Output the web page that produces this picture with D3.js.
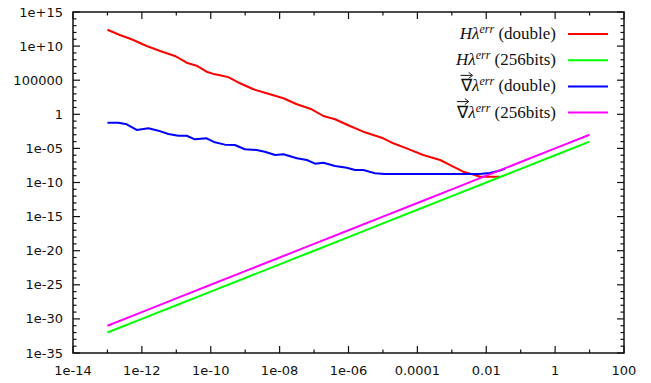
<!DOCTYPE html>
<html>
<head>
<meta charset="utf-8">
<script src="https://cdn.jsdelivr.net/npm/d3@7"></script>
<style>
  body { margin: 0; background: #fff; }
  svg { display: block; }
  .tick-label { font-family: 'DejaVu Sans', sans-serif; font-size: 13px; fill: #111; }
  .legend-text { font-family: 'Liberation Serif', serif; font-size: 17px; fill: #111; }
</style>
</head>
<body>
<svg id="chart" width="651" height="383"></svg>
<script>
// log10 of the values
const hDoubleX = [-13.0, -12.64, -12.3, -11.86, -11.47, -11.04, -10.7, -10.41, -10.12, -9.88, -9.7, -9.49, -9.15,
  -8.76, -8.38, -7.89, -7.5, -7.07, -6.73, -6.39, -5.96, -5.57, -4.99, -4.7, -4.31, -3.83, -3.34, -2.96,
  -2.67, -2.47, -2.18, -1.6];
const hDoubleY = [12.4, 11.63, 11.0, 10.01, 9.28, 8.55, 7.57, 7.13, 6.25, 5.86, 5.7, 5.45, 4.55,
  3.67, 3.08, 2.35, 1.47, 0.73, -0.25, -0.73, -1.72, -2.55, -3.52, -4.25, -4.99, -5.97, -6.7, -7.68,
  -8.42, -8.7, -9.15, -9.15];

const gradDoubleX = [-13.0, -12.68, -12.44, -12.15, -11.81, -11.52, -11.23, -10.94, -10.7, -10.46, -10.12, -9.88,
  -9.59, -9.3, -9.01, -8.67, -8.43, -8.13, -7.89, -7.5, -7.21, -6.97, -6.73, -6.39, -6.05, -5.81, -5.57,
  -5.23, -4.95, -2.2, -1.9, -1.6, -1.45];
const gradDoubleY = [-1.23, -1.23, -1.47, -2.3, -2.05, -2.4, -2.89, -3.14, -3.14, -3.67, -3.52, -4.11,
  -4.45, -4.5, -5.13, -5.23, -5.48, -5.97, -5.87, -6.45, -6.7, -7.24, -7.1, -7.58, -7.83, -8.17, -8.17,
  -8.65, -8.75, -8.75, -8.6, -8.25, -7.95];

const bitsX = [-13, -12, -11, -10, -9, -8, -7, -6, -5, -4, -3, -2, -1, 0, 1];
const hBitsY = [-32, -30, -28, -26, -24, -22, -20, -18, -16, -14, -12, -10, -8, -6, -4];
const gradBitsY = [-31, -29, -27, -25, -23, -21, -19, -17, -15, -13, -11, -9, -7, -5, -3];

const xTicks = [1e-14, 1e-12, 1e-10, 1e-8, 1e-6, 1e-4, 1e-2, 1, 100];
const xTickLabels = ['1e-14', '1e-12', '1e-10', '1e-08', '1e-06', '0.0001', '0.01', '1', '100'];
const yTicks = [1e15, 1e10, 1e5, 1, 1e-5, 1e-10, 1e-15, 1e-20, 1e-25, 1e-30, 1e-35];
const yTickLabels = ['1e+15', '1e+10', '100000', '1', '1e-05', '1e-10', '1e-15', '1e-20', '1e-25', '1e-30', '1e-35'];

const series = [
  { name: 'H', kind: 'double', xs: hDoubleX, ys: hDoubleY, color: '#ff0000' },
  { name: 'H', kind: '256bits', xs: bitsX, ys: hBitsY, color: '#00ff00' },
  { name: 'grad', kind: 'double', xs: gradDoubleX, ys: gradDoubleY, color: '#0000ff' },
  { name: 'grad', kind: '256bits', xs: bitsX, ys: gradBitsY, color: '#ff00ff' },
];

const svg = d3.select('#chart');
const plotLeft = 73, plotRight = 624, plotTop = 12, plotBottom = 353;

const x = d3.scaleLog().domain([1e-14, 100]).range([plotLeft, plotRight]);
const y = d3.scaleLog().domain([1e-35, 1e15]).range([plotBottom, plotTop]);

// minor ticks: each decade
const xMinor = d3.range(-14, 3).map((e) => Math.pow(10, e));
const yMinor = d3.range(-35, 16).map((e) => Math.pow(10, e));

const axes = svg.append('g').attr('stroke', '#111').attr('stroke-width', 1.2);

xMinor.forEach((v, i) => {
  const len = i % 2 === 0 ? 7 : 3.5;
  axes.append('line').attr('x1', x(v)).attr('x2', x(v)).attr('y1', plotBottom).attr('y2', plotBottom - len);
  axes.append('line').attr('x1', x(v)).attr('x2', x(v)).attr('y1', plotTop).attr('y2', plotTop + len);
});
yMinor.forEach((v, i) => {
  const len = i % 5 === 0 ? 7 : 3.5;
  axes.append('line').attr('x1', plotLeft).attr('x2', plotLeft + len).attr('y1', y(v)).attr('y2', y(v));
  axes.append('line').attr('x1', plotRight).attr('x2', plotRight - len).attr('y1', y(v)).attr('y2', y(v));
});

svg.selectAll('.xl')
  .data(xTicks)
  .enter()
  .append('text')
  .attr('class', 'tick-label')
  .attr('x', (d) => x(d))
  .attr('y', 375)
  .attr('text-anchor', 'middle')
  .text((d, i) => xTickLabels[i]);

svg.selectAll('.yl')
  .data(yTicks)
  .enter()
  .append('text')
  .attr('class', 'tick-label')
  .attr('x', 63)
  .attr('y', (d) => y(d) + 4.5)
  .attr('text-anchor', 'end')
  .text((d, i) => yTickLabels[i]);

const line = d3.line()
  .x((d) => x(d[0]))
  .y((d) => y(d[1]));

series.forEach((s) => {
  const pts = s.xs.map((v, i) => [Math.pow(10, v), Math.pow(10, s.ys[i])]);
  svg.append('path')
    .datum(pts)
    .attr('fill', 'none')
    .attr('stroke', s.color)
    .attr('stroke-width', 2)
    .attr('stroke-linejoin', 'round')
    .attr('d', line);
});

svg.append('rect')
  .attr('x', plotLeft).attr('y', plotTop)
  .attr('width', plotRight - plotLeft).attr('height', plotBottom - plotTop)
  .attr('fill', 'none').attr('stroke', '#111').attr('stroke-width', 1.5);

// legend
const legend = svg.append('g');
series.forEach((s, i) => {
  const cy = 34 + i * 26.2;
  legend.append('line')
    .attr('x1', 568).attr('x2', 608)
    .attr('y1', cy).attr('y2', cy)
    .attr('stroke', s.color).attr('stroke-width', 2);

  const t = legend.append('text')
    .attr('class', 'legend-text')
    .attr('x', 556)
    .attr('y', cy + 5)
    .attr('text-anchor', 'end');
  let nabla = null;
  if (s.name === 'H') {
    t.append('tspan').attr('font-style', 'italic').text('H');
  } else {
    nabla = t.append('tspan').text('∇');
  }
  t.append('tspan').attr('font-style', 'italic').text('λ');
  t.append('tspan').attr('font-style', 'italic').attr('font-size', '12px').attr('dy', -6).text('err');
  t.append('tspan').attr('dy', 6).text(' (' + s.kind + ')');

  if (nabla) {
    const nb = nabla.node().getBBox();
    const ax = nb.x + nb.width / 2;
    const ay = cy - 11;
    legend.append('line')
      .attr('x1', ax - 6).attr('x2', ax + 5)
      .attr('y1', ay).attr('y2', ay)
      .attr('stroke', '#111').attr('stroke-width', 1);
    legend.append('path')
      .attr('d', `M${ax + 2},${ay - 3} L${ax + 6},${ay} L${ax + 2},${ay + 3}`)
      .attr('fill', 'none').attr('stroke', '#111').attr('stroke-width', 1);
  }
});
</script>
</body>
</html>
